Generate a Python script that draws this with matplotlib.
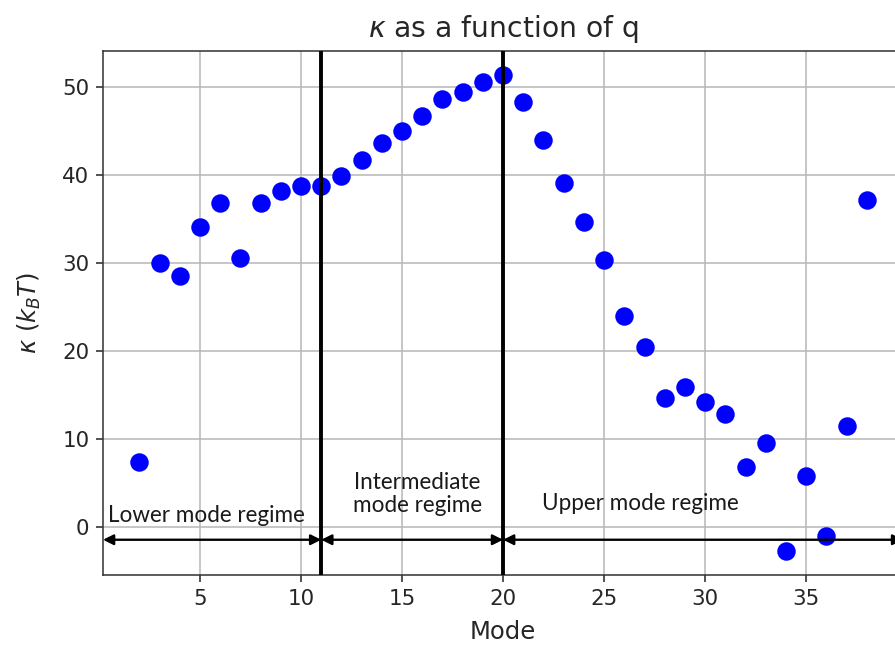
import matplotlib
matplotlib.use("Agg")
import matplotlib.pyplot as plt

modes = list(range(2, 39))
kappa = [7.4, 30.0, 28.5, 34.1, 36.8, 30.6, 36.8, 38.2, 38.8, 38.8,
         39.9, 41.7, 43.7, 45.0, 46.7, 48.6, 49.4, 50.6, 51.4,
         48.3, 44.0, 39.1, 34.7, 30.4, 24.0, 20.5, 14.7, 15.9, 14.2,
         12.9, 6.9, 9.6, -2.7, 5.8, -1.0, 11.5, 37.2]
boundaries = [11, 20]
regime_labels = ["Lower mode regime", "Intermediate\nmode regime", "Upper mode regime"]

fig = plt.figure(figsize=(895/140, 648/140), dpi=140)
ax = fig.add_axes([0.1151, 0.1127, 0.894, 0.8086])
ax.plot(modes, kappa, 'o', color='blue', markersize=8.5, zorder=3)
ax.grid(True, color='#b8b8b8', linewidth=0.8)
ax.set_axisbelow(True)
ax.set_xlim(0.2, 39.8)
ax.set_ylim(-5.4, 54.1)
ax.spines['right'].set_visible(False)
for s in ['left', 'top', 'bottom']:
    ax.spines[s].set_color('#333333')
ax.tick_params(labelsize=11, colors='#262626')

for b in boundaries:
    ax.axvline(b, color='black', linewidth=2, zorder=4)

arrow_y = -1.4
spans = [(0.2, boundaries[0]), (boundaries[0], boundaries[1]), (boundaries[1], 39.8)]
for (a, b) in spans:
    ax.annotate('', xy=(b, arrow_y), xytext=(a, arrow_y),
                arrowprops=dict(arrowstyle='<|-|>', color='black', lw=1.2,
                                mutation_scale=11, shrinkA=0, shrinkB=0))

tfont = dict(family=['Lato', 'DejaVu Sans'], fontsize=11.6, color='#1a1a1a')
ax.text(0.45, 1.3, regime_labels[0], ha='left', va='center', **tfont)
ax.text(15.75, 3.8, regime_labels[1], ha='center', va='center', linespacing=1.15, **tfont)
ax.text(21.95, 2.7, regime_labels[2], ha='left', va='center', **tfont)

ax.set_title(r"$\kappa$ as a function of q", fontsize=14.5, color='#262626', pad=7)
ax.set_xlabel("Mode", fontsize=12.5, labelpad=6, color='#262626')
ax.set_ylabel(r"$\kappa$ ($k_BT$)", fontsize=12.5, labelpad=10, color='#262626')

fig.savefig("out.png", dpi=140)
